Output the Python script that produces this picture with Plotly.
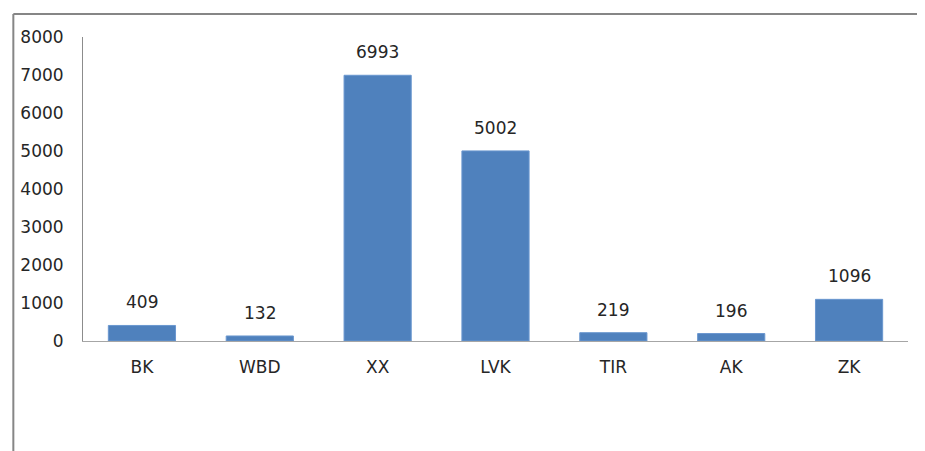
import plotly.graph_objects as go

categories = ["BK", "WBD", "XX", "LVK", "TIR", "AK", "ZK"]
values = [409, 132, 6993, 5002, 219, 196, 1096]
y_ticks = [0, 1000, 2000, 3000, 4000, 5000, 6000, 7000, 8000]

FONT = "DejaVu Sans"
TXT = "#262626"
FS = 17

fig = go.Figure(
    go.Bar(
        x=categories,
        y=values,
        marker=dict(color="#4F81BD", line=dict(color="#6A97CF", width=1)),
    )
)

for c, v in zip(categories, values):
    fig.add_annotation(
        x=c, y=v, text=str(v), showarrow=False,
        yanchor="bottom", yshift=11,
        font=dict(family=FONT, size=FS, color=TXT),
    )

# page has an 8px body offset; plot area in page coords: x 79..908, y 37..341
OFF = 8
W, H = 925 - OFF, 451 - OFF
L, T = 79 - OFF, 37 - OFF
R = W - (908 - OFF)
B = H - (341 - OFF)
pw, ph = W - L - R, H - T - B

def px(x):
    return (x - OFF - L) / pw

def py(y):
    return (H - B - (y - OFF)) / ph

fig.update_layout(
    width=W,
    height=H,
    margin=dict(l=L, r=R, t=T, b=B, pad=0),
    paper_bgcolor="white",
    plot_bgcolor="white",
    showlegend=False,
    bargap=0.43,
    font=dict(family=FONT, size=FS, color=TXT),
    xaxis=dict(
        showgrid=False,
        showline=True,
        linecolor="#A6A6A6",
        linewidth=1,
        ticks="",
        tickfont=dict(family=FONT, size=FS, color=TXT),
        ticklabelstandoff=11,
    ),
    yaxis=dict(
        range=[0, 8000],
        tickvals=y_ticks,
        ticktext=[str(t) for t in y_ticks],
        showgrid=False,
        zeroline=False,
        showline=True,
        linecolor="#8C8C8C",
        linewidth=1,
        ticks="",
        tickfont=dict(family=FONT, size=FS, color=TXT),
        ticklabelstandoff=15,
    ),
    shapes=[
        dict(type="line", xref="paper", yref="paper",
             x0=px(9), x1=px(940), y0=py(14), y1=py(14),
             line=dict(color="#868686", width=2)),
        dict(type="line", xref="paper", yref="paper",
             x0=px(9), x1=px(9), y0=py(14), y1=py(470),
             line=dict(color="#868686", width=2)),
    ],
)

fig.write_html("out.html")
